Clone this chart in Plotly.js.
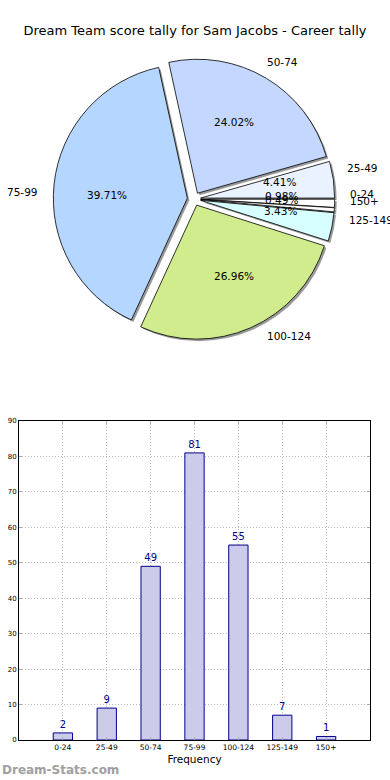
<!DOCTYPE html>
<html>
<head>
<meta charset="utf-8">
<script src="https://cdn.plot.ly/plotly-3.0.1.min.js"></script>
<style>html,body{margin:0;padding:0;background:#fff;}#chart{width:390px;height:780px;}</style>
</head>
<body>
<div id="chart"></div>
<script>
const categories = ["0-24", "25-49", "50-74", "75-99", "100-124", "125-149", "150+"];
const counts = [2, 9, 49, 81, 55, 7, 1];
const sliceColors = ["#ffffff", "#eaf1ff", "#c4d8ff", "#b4d6ff", "#d0ec8c", "#d8ffff", "#ffffff"];
const titleText = "Dream Team score tally for Sam Jacobs - Career tally";
const xTitle = "Frequency";
const watermark = "Dream-Stats.com";

const FONT = "DejaVu Sans, sans-serif";
const PULL = 0.05;
const pullArr = categories.map(() => PULL);
// pie box: centre (194,199), radius 134 px
const dom = {x: [0.13667, 0.85821], y: [0.56449, 0.92526]};
// label axes: same centre & scale, wider range (1 unit = pie radius)
const LR = 1.4;
const dom2 = {x: [0.01641, 0.97846], y: [0.50436, 0.98538]};
const sx = 2 / 390, sy = 2 / 780;

const total = counts.reduce((a, b) => a + b, 0);
const ann = [];
let cum = 0;
counts.forEach((v, i) => {
  const mid = 2 * Math.PI * (cum + v / 2) / total;
  cum += v;
  const c = Math.cos(mid), s = Math.sin(mid);
  const pr = PULL + 0.6, lr = PULL + 1.1;
  ann.push({xref: "x2", yref: "y2", x: pr * c, y: pr * s, showarrow: false,
            text: (100 * v / total).toFixed(2) + "%", xanchor: "center", yanchor: "middle",
            font: {family: FONT, size: 10.5, color: "#000"}});
  ann.push({xref: "x2", yref: "y2", x: lr * c, y: lr * s, showarrow: false,
            text: categories[i], xanchor: c >= 0 ? "left" : "right", yanchor: "middle",
            font: {family: FONT, size: 10.5, color: "#000"}});
});
ann.push({text: watermark, xref: "paper", yref: "paper", x: 0, y: 1 - 770 / 780,
          xanchor: "left", yanchor: "middle", showarrow: false,
          font: {family: FONT, size: 12, color: "#a0a0a0", weight: "bold"}});

const shadow = {
  type: "pie", values: counts, labels: categories, sort: false,
  direction: "counterclockwise", rotation: 90, pull: pullArr,
  marker: {colors: categories.map(() => "#9a9a9a"), line: {width: 0}},
  textinfo: "none", hoverinfo: "skip", showlegend: false,
  domain: {x: [dom.x[0] + sx, dom.x[1] + sx], y: [dom.y[0] - sy, dom.y[1] - sy]}
};
const main = {
  type: "pie", values: counts, labels: categories, sort: false,
  direction: "counterclockwise", rotation: 90, pull: pullArr,
  marker: {colors: sliceColors, line: {color: "#000", width: 0.8}},
  textinfo: "none", hoverinfo: "skip", showlegend: false, domain: dom
};
const anchorTrace = {type: "scatter", x: [], y: [], xaxis: "x2", yaxis: "y2",
                     hoverinfo: "skip", showlegend: false};
const bars = {
  type: "bar", x: categories, y: counts, width: 0.44,
  marker: {color: "#ccccea", line: {color: "#00008b", width: 1}},
  text: counts.map(String), textposition: "outside", cliponaxis: false,
  textfont: {family: FONT, size: 10, color: "#00008b"},
  hoverinfo: "skip", showlegend: false
};

const gridDash = "1px,2px";
const layout = {
  width: 390, height: 780, margin: {l: 0, r: 0, t: 0, b: 0},
  paper_bgcolor: "#fff", plot_bgcolor: "rgba(0,0,0,0)",
  font: {family: FONT, color: "#000"},
  title: {text: titleText, font: {family: FONT, size: 13, color: "#000"},
          x: 0.5, xanchor: "center", y: 1 - 30 / 780, yanchor: "middle"},
  xaxis: {domain: [19 / 390, 370 / 390], range: [-1, 7], type: "category",
          showline: true, linecolor: "#000", linewidth: 1, mirror: "ticks",
          ticks: "inside", ticklen: 3, tickcolor: "#aaa",
          showgrid: true, gridcolor: "#bdbdbd", griddash: gridDash, gridwidth: 1,
          tickfont: {family: FONT, size: 7.5, color: "#000"},
          title: {text: xTitle, font: {family: FONT, size: 10.5, color: "#000"}, standoff: 4},
          automargin: false, fixedrange: true},
  yaxis: {domain: [1 - 740 / 780, 1 - 421 / 780], range: [0, 90], dtick: 10,
          showline: true, linecolor: "#000", linewidth: 1, mirror: "ticks",
          ticks: "inside", ticklen: 3, tickcolor: "#aaa",
          showgrid: true, gridcolor: "#bdbdbd", griddash: gridDash, gridwidth: 1,
          zeroline: false,
          tickfont: {family: FONT, size: 7, color: "#000"},
          automargin: false, fixedrange: true},
  xaxis2: {domain: dom2.x, range: [-LR, LR], anchor: "y2", visible: false,
           showgrid: false, zeroline: false, fixedrange: true},
  yaxis2: {domain: dom2.y, range: [-LR, LR], anchor: "x2", visible: false,
           showgrid: false, zeroline: false, fixedrange: true},
  annotations: ann
};

Plotly.newPlot("chart", [shadow, main, anchorTrace, bars], layout, {staticPlot: true, displayModeBar: false});
</script>
</body>
</html>
